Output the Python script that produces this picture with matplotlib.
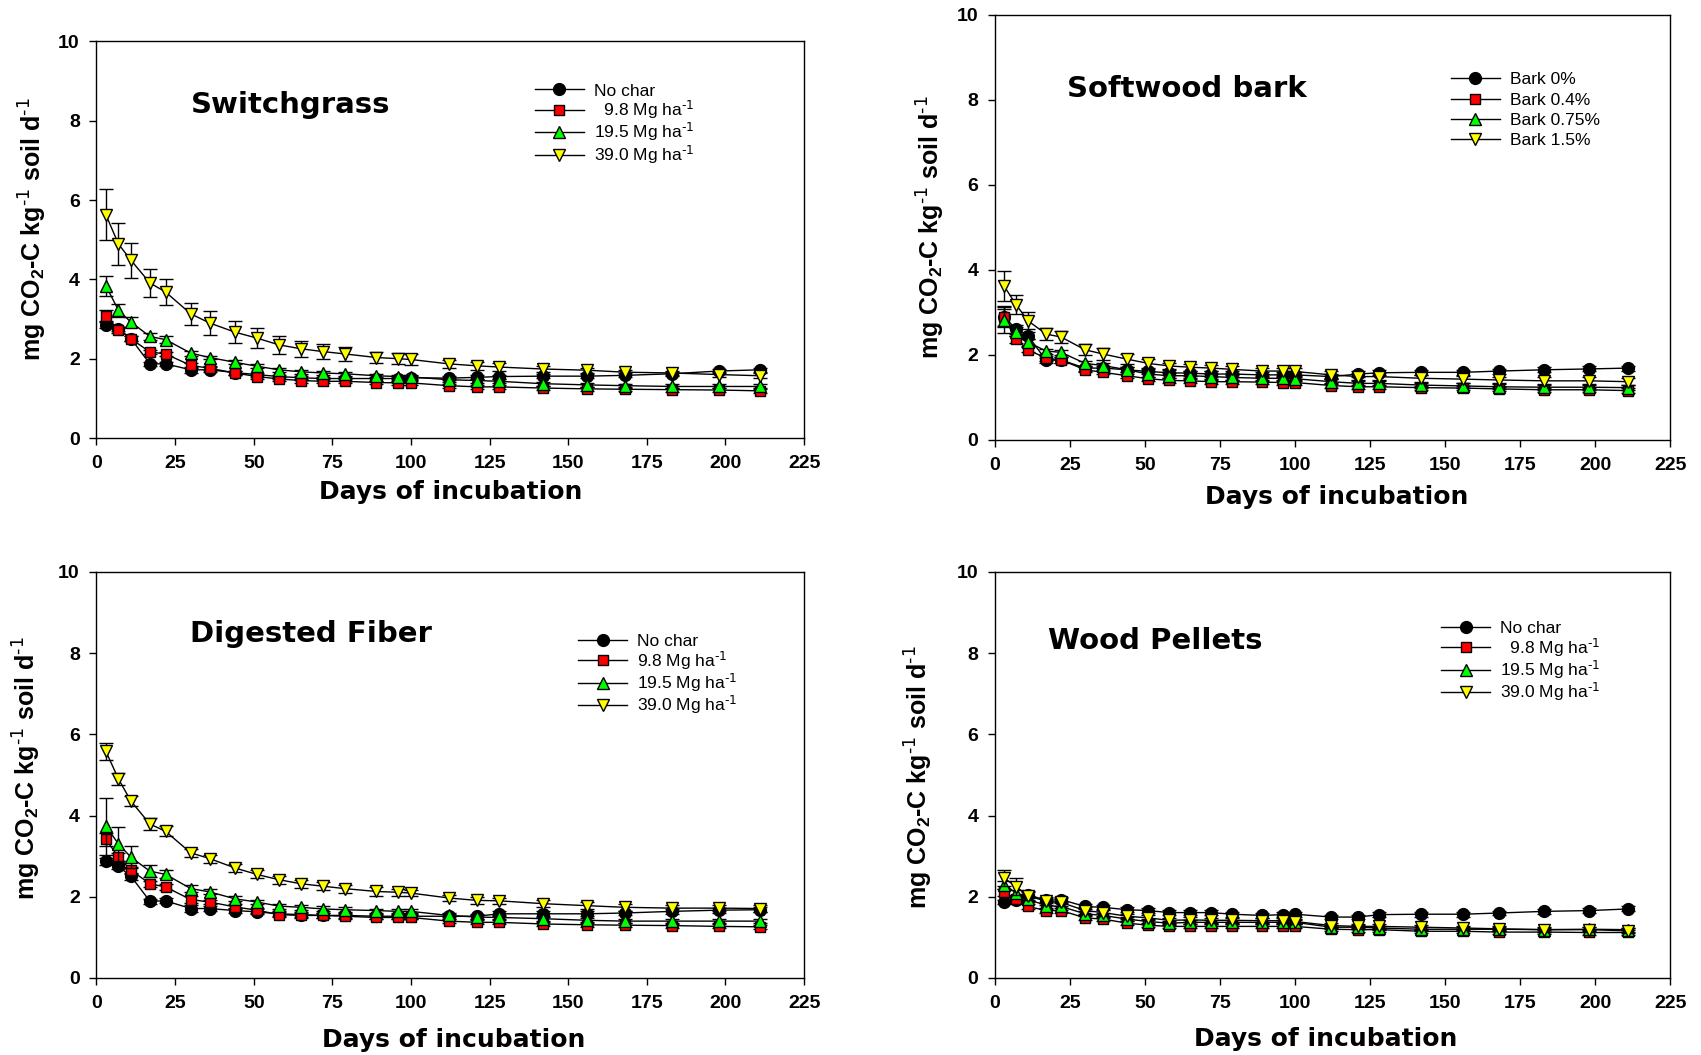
import numpy as np
import matplotlib
matplotlib.use("Agg")
import matplotlib.pyplot as plt

plt.rcParams['font.family'] = ['Liberation Sans', 'DejaVu Sans']
plt.rcParams['mathtext.default'] = 'regular'

WIDE = ['DejaVu Sans']

days = [3, 7, 11, 17, 22, 30, 36, 44, 51, 58, 65, 72, 79, 89, 96, 100, 112, 121, 128, 142, 156, 168, 183, 198, 211]

char_labels = ["No char", "  9.8 Mg ha$^{\\text{-1}}$", "19.5 Mg ha$^{\\text{-1}}$", "39.0 Mg ha$^{\\text{-1}}$"]
fiber_labels = ["No char", "9.8 Mg ha$^{\\text{-1}}$", "19.5 Mg ha$^{\\text{-1}}$", "39.0 Mg ha$^{\\text{-1}}$"]
bark_labels = ["Bark 0%", "Bark 0.4%", "Bark 0.75%", "Bark 1.5%"]

# Switchgrass
sg_black = [2.86, 2.75, 2.5, 1.87, 1.87, 1.72, 1.72, 1.65, 1.6, 1.55, 1.52, 1.5, 1.5, 1.5, 1.5, 1.52, 1.51, 1.53, 1.55, 1.56, 1.56, 1.58, 1.62, 1.69, 1.72]
sg_red = [3.08, 2.73, 2.5, 2.17, 2.12, 1.83, 1.76, 1.64, 1.55, 1.49, 1.45, 1.43, 1.43, 1.4, 1.39, 1.39, 1.32, 1.29, 1.29, 1.26, 1.24, 1.23, 1.22, 1.21, 1.19]
sg_green = [3.84, 3.22, 2.92, 2.56, 2.48, 2.14, 2.03, 1.91, 1.81, 1.72, 1.67, 1.64, 1.62, 1.57, 1.55, 1.54, 1.47, 1.45, 1.43, 1.37, 1.34, 1.32, 1.3, 1.3, 1.3]
sg_yellow = [5.63, 4.89, 4.48, 3.91, 3.68, 3.13, 2.9, 2.67, 2.52, 2.35, 2.25, 2.18, 2.12, 2.03, 2.0, 1.98, 1.87, 1.82, 1.79, 1.74, 1.71, 1.66, 1.64, 1.6, 1.57]
sg_black_err = [0.08, 0.06, 0.06, 0.05, 0.05, 0.08, 0.06, 0.05, 0.05, 0.05, 0.05, 0.05, 0.05, 0.05, 0.05, 0.05, 0.05, 0.05, 0.05, 0.05, 0.05, 0.05, 0.05, 0.05, 0.05]
sg_red_err = [0.15, 0.08, 0.06, 0.06, 0.06, 0.06, 0.05, 0.05, 0.05, 0.05, 0.05, 0.05, 0.05, 0.05, 0.05, 0.05, 0.05, 0.05, 0.05, 0.05, 0.05, 0.05, 0.05, 0.05, 0.05]
sg_green_err = [0.25, 0.16, 0.12, 0.1, 0.08, 0.06, 0.05, 0.05, 0.05, 0.05, 0.05, 0.05, 0.05, 0.05, 0.05, 0.05, 0.05, 0.05, 0.05, 0.05, 0.05, 0.05, 0.05, 0.05, 0.05]
sg_yellow_err = [0.65, 0.53, 0.44, 0.35, 0.33, 0.27, 0.3, 0.27, 0.25, 0.22, 0.2, 0.18, 0.17, 0.15, 0.14, 0.14, 0.1, 0.1, 0.1, 0.07, 0.06, 0.06, 0.06, 0.06, 0.06]

# Softwood bark
sb_black = [2.9, 2.6, 2.45, 1.87, 1.88, 1.69, 1.69, 1.65, 1.61, 1.58, 1.57, 1.55, 1.55, 1.53, 1.53, 1.53, 1.49, 1.55, 1.58, 1.59, 1.59, 1.62, 1.65, 1.67, 1.69]
sb_red = [2.88, 2.37, 2.12, 1.92, 1.88, 1.65, 1.59, 1.51, 1.44, 1.4, 1.39, 1.37, 1.37, 1.36, 1.35, 1.35, 1.28, 1.25, 1.25, 1.23, 1.22, 1.2, 1.18, 1.18, 1.16]
sb_green = [2.82, 2.55, 2.3, 2.09, 2.06, 1.8, 1.75, 1.65, 1.55, 1.51, 1.51, 1.49, 1.47, 1.45, 1.45, 1.44, 1.37, 1.33, 1.33, 1.29, 1.27, 1.25, 1.24, 1.24, 1.23]
sb_yellow = [3.62, 3.18, 2.8, 2.49, 2.42, 2.12, 2.02, 1.9, 1.8, 1.74, 1.71, 1.69, 1.66, 1.62, 1.62, 1.61, 1.53, 1.49, 1.49, 1.45, 1.43, 1.41, 1.39, 1.39, 1.37]
sb_black_err = [0.25, 0.1, 0.08, 0.06, 0.06, 0.06, 0.06, 0.06, 0.06, 0.06, 0.06, 0.06, 0.06, 0.06, 0.06, 0.06, 0.06, 0.06, 0.06, 0.06, 0.06, 0.06, 0.06, 0.06, 0.06]
sb_red_err = [0.2, 0.08, 0.06, 0.06, 0.06, 0.06, 0.05, 0.05, 0.05, 0.05, 0.05, 0.05, 0.05, 0.05, 0.05, 0.05, 0.05, 0.05, 0.05, 0.05, 0.05, 0.05, 0.05, 0.05, 0.05]
sb_green_err = [0.3, 0.1, 0.08, 0.06, 0.06, 0.06, 0.06, 0.06, 0.06, 0.06, 0.06, 0.06, 0.06, 0.06, 0.06, 0.06, 0.06, 0.06, 0.06, 0.06, 0.06, 0.06, 0.06, 0.06, 0.06]
sb_yellow_err = [0.36, 0.22, 0.2, 0.14, 0.15, 0.13, 0.14, 0.12, 0.1, 0.08, 0.08, 0.08, 0.08, 0.08, 0.08, 0.08, 0.08, 0.08, 0.08, 0.08, 0.08, 0.08, 0.08, 0.08, 0.08]

# Digested fiber
df_black = [2.87, 2.75, 2.5, 1.89, 1.9, 1.71, 1.71, 1.66, 1.63, 1.58, 1.56, 1.54, 1.54, 1.52, 1.52, 1.52, 1.52, 1.52, 1.58, 1.58, 1.58, 1.6, 1.64, 1.67, 1.68]
df_red = [3.41, 2.98, 2.65, 2.32, 2.24, 1.93, 1.87, 1.75, 1.67, 1.56, 1.54, 1.54, 1.52, 1.49, 1.49, 1.49, 1.4, 1.37, 1.37, 1.33, 1.31, 1.3, 1.29, 1.27, 1.26]
df_green = [3.74, 3.3, 2.97, 2.63, 2.55, 2.2, 2.12, 1.95, 1.87, 1.77, 1.74, 1.7, 1.68, 1.66, 1.64, 1.64, 1.54, 1.5, 1.49, 1.46, 1.42, 1.4, 1.4, 1.4, 1.4]
df_yellow = [5.58, 4.9, 4.35, 3.79, 3.61, 3.08, 2.94, 2.71, 2.55, 2.42, 2.32, 2.26, 2.2, 2.13, 2.11, 2.09, 1.97, 1.91, 1.9, 1.83, 1.78, 1.74, 1.72, 1.72, 1.71]
df_black_err = [0.08, 0.06, 0.08, 0.06, 0.06, 0.08, 0.06, 0.06, 0.06, 0.06, 0.06, 0.06, 0.06, 0.06, 0.06, 0.06, 0.06, 0.06, 0.06, 0.06, 0.06, 0.06, 0.06, 0.06, 0.06]
df_red_err = [0.15, 0.1, 0.08, 0.08, 0.08, 0.08, 0.06, 0.06, 0.06, 0.06, 0.06, 0.06, 0.06, 0.05, 0.05, 0.05, 0.05, 0.05, 0.05, 0.05, 0.05, 0.05, 0.05, 0.05, 0.05]
df_green_err = [0.7, 0.41, 0.27, 0.15, 0.1, 0.08, 0.06, 0.06, 0.06, 0.06, 0.06, 0.06, 0.06, 0.05, 0.05, 0.05, 0.05, 0.05, 0.05, 0.05, 0.05, 0.05, 0.05, 0.05, 0.05]
df_yellow_err = [0.21, 0.15, 0.12, 0.15, 0.12, 0.1, 0.1, 0.1, 0.1, 0.1, 0.1, 0.1, 0.1, 0.1, 0.08, 0.08, 0.08, 0.08, 0.08, 0.08, 0.08, 0.08, 0.08, 0.08, 0.08]

# Wood pellets
wp_black = [1.87, 1.93, 2.05, 1.91, 1.93, 1.76, 1.74, 1.68, 1.66, 1.61, 1.61, 1.61, 1.57, 1.54, 1.56, 1.57, 1.5, 1.5, 1.56, 1.57, 1.57, 1.6, 1.64, 1.66, 1.7]
wp_red = [2.11, 1.94, 1.76, 1.66, 1.66, 1.48, 1.45, 1.35, 1.3, 1.27, 1.27, 1.27, 1.27, 1.27, 1.27, 1.27, 1.2, 1.19, 1.19, 1.15, 1.15, 1.13, 1.13, 1.12, 1.12]
wp_green = [2.3, 2.09, 1.94, 1.78, 1.76, 1.58, 1.54, 1.45, 1.39, 1.35, 1.37, 1.37, 1.37, 1.37, 1.37, 1.37, 1.25, 1.25, 1.23, 1.2, 1.2, 1.2, 1.19, 1.2, 1.19]
wp_yellow = [2.46, 2.25, 2.02, 1.89, 1.86, 1.66, 1.61, 1.52, 1.48, 1.42, 1.43, 1.42, 1.42, 1.41, 1.41, 1.39, 1.29, 1.27, 1.27, 1.25, 1.23, 1.21, 1.19, 1.19, 1.16]
wp_black_err = [0.06, 0.06, 0.08, 0.06, 0.06, 0.06, 0.06, 0.06, 0.06, 0.06, 0.06, 0.06, 0.06, 0.06, 0.06, 0.06, 0.06, 0.06, 0.06, 0.06, 0.06, 0.06, 0.06, 0.06, 0.06]
wp_red_err = [0.08, 0.06, 0.06, 0.06, 0.06, 0.06, 0.05, 0.05, 0.05, 0.05, 0.05, 0.05, 0.05, 0.05, 0.05, 0.05, 0.05, 0.05, 0.05, 0.05, 0.05, 0.05, 0.05, 0.05, 0.05]
wp_green_err = [0.1, 0.08, 0.08, 0.08, 0.08, 0.06, 0.06, 0.05, 0.05, 0.05, 0.05, 0.05, 0.05, 0.05, 0.05, 0.05, 0.05, 0.05, 0.05, 0.05, 0.05, 0.05, 0.05, 0.05, 0.05]
wp_yellow_err = [0.19, 0.21, 0.1, 0.1, 0.1, 0.08, 0.08, 0.06, 0.06, 0.06, 0.06, 0.06, 0.06, 0.06, 0.06, 0.06, 0.06, 0.06, 0.06, 0.06, 0.06, 0.06, 0.06, 0.06, 0.06]

colors = ['black', '#ff0000', '#00ff00', '#ffff00']
markers = ['o', 's', '^', 'v']
msizes = [8.5, 7, 8.5, 8.5]

fig = plt.figure(figsize=(17.01, 10.55), dpi=100)

panels = [
    # rect, title, title pos, series, errors, labels, legend anchor, label spacing, ylabel coords, xlabel coords
    ([0.0567, 0.5848, 0.416, 0.376], "Switchgrass", (0.133, 0.839),
     [sg_black, sg_red, sg_green, sg_yellow], [sg_black_err, sg_red_err, sg_green_err, sg_yellow_err],
     char_labels, (0.62, 0.894), 0.0, (-0.0675, 0.527), (0.50, -0.105)),
    ([0.585, 0.583, 0.397, 0.403], "Softwood bark", (0.106, 0.826),
     [sb_black, sb_red, sb_green, sb_yellow], [sb_black_err, sb_red_err, sb_green_err, sb_yellow_err],
     bark_labels, (0.675, 0.865), 0.3, (-0.0707, 0.50), (0.506, -0.106)),
    ([0.0567, 0.073, 0.416, 0.385], "Digested Fiber", (0.132, 0.848),
     [df_black, df_red, df_green, df_yellow], [df_black_err, df_red_err, df_green_err, df_yellow_err],
     fiber_labels, (0.681, 0.847), 0.0, (-0.075, 0.517), (0.505, -0.123)),
    ([0.585, 0.073, 0.397, 0.385], "Wood Pellets", (0.079, 0.829),
     [wp_black, wp_red, wp_green, wp_yellow], [wp_black_err, wp_red_err, wp_green_err, wp_yellow_err],
     char_labels, (0.661, 0.879), 0.0, (-0.0884, 0.495), (0.489, -0.121)),
]

for rect, title, tpos, series, errs, labels, lpos, lspace, ylc, xlc in panels:
    ax = fig.add_axes(rect)
    handles = []
    for i in range(4):
        c = ax.errorbar(days, series[i], yerr=errs[i], fmt='-', color='black', lw=1,
                        marker=markers[i], mfc=colors[i], mec='black', ms=msizes[i], mew=1,
                        ecolor='black', elinewidth=1, capsize=5, capthick=1, zorder=2 + i)
        handles.append(c[0])
    ax.set_xlim(0, 225)
    ax.set_ylim(0, 10)
    ax.set_xticks(np.arange(0, 226, 25))
    ax.set_yticks(np.arange(0, 11, 2))
    ax.tick_params(direction='out', length=5, width=1, pad=7)
    for lab in ax.get_xticklabels() + ax.get_yticklabels():
        lab.set_fontweight('bold')
        lab.set_fontsize(14)
    for sp in ax.spines.values():
        sp.set_linewidth(1)
    ax.set_ylabel("mg CO$_2$-C kg$^{\\text{-1}}$ soil d$^{\\text{-1}}$", fontsize=18, fontweight='bold')
    ax.set_xlabel("Days of incubation", fontsize=18, fontweight='bold', family=WIDE)
    ax.yaxis.set_label_coords(*ylc)
    ax.xaxis.set_label_coords(*xlc)
    ax.text(tpos[0], tpos[1], title, transform=ax.transAxes, fontsize=21, fontweight='bold',
            family=WIDE, ha='left', va='center')
    ax.legend(handles, labels, loc='upper left', bbox_to_anchor=lpos, frameon=False,
              prop={'size': 12.5}, handlelength=2.8, handletextpad=0.6,
              labelspacing=lspace, borderpad=0, borderaxespad=0, numpoints=1)

fig.savefig("out.png", dpi=100)
